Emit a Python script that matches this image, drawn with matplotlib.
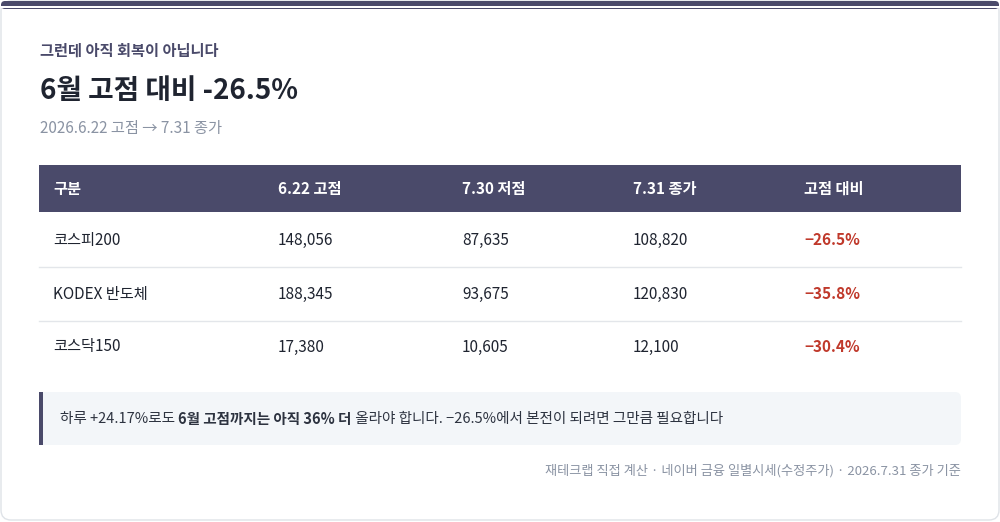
import matplotlib
matplotlib.use("Agg")
import matplotlib.pyplot as plt
from matplotlib.patches import FancyBboxPatch, Rectangle

FAM = ['Noto Sans CJK KR', 'DejaVu Sans']
plt.rcParams['font.family'] = FAM

headers = ["구분", "6.22 고점", "7.30 저점", "7.31 종가", "고점 대비"]
names = ["코스피200", "KODEX 반도체", "코스닥150"]
highs = [148056, 188345, 17380]
lows = [87635, 93675, 10605]
closes = [108820, 120830, 12100]
changes = [-26.5, -35.8, -30.4]

DARK = "#4a4a6a"
TXT = "#1f2430"
GRAY = "#8a93a3"
RED = "#c0392b"

fig = plt.figure(figsize=(10, 5.22), dpi=100)
ax = fig.add_axes([0, 0, 1, 1])
ax.set_xlim(0, 1000); ax.set_ylim(522, 0); ax.axis("off")

ax.add_patch(FancyBboxPatch((1, 1), 998, 519, boxstyle="round,pad=0,rounding_size=10",
                            fc="white", ec="#dfe3e8", lw=1))
ax.add_patch(FancyBboxPatch((1, 1), 998, 8, boxstyle="round,pad=0,rounding_size=4",
                            fc=DARK, ec="none"))
ax.add_patch(Rectangle((1, 4), 998, 3, fc=DARK, ec="none"))
ax.add_patch(Rectangle((1, 6), 998, 2, fc="white", ec="none"))

ax.text(40, 51, "그런데 아직 회복이 아닙니다", fontsize=11, fontweight="bold", color=DARK, va="center")
ax.text(40, 91, "6월 고점 대비 -26.5%", fontsize=20, fontweight="bold", color=TXT, va="center")
ax.text(40, 128, "2026.6.22 고점 → 7.31 종가", fontsize=11, color=GRAY, va="center")

colx = [53, 278, 462, 633, 804]
ax.add_patch(Rectangle((39, 165), 922, 47, fc=DARK, ec="none"))
for x, h in zip(colx, headers):
    ax.text(x, 189, h, fontsize=11, fontweight="bold", color="white", va="center")

rowy = [240, 294, 347]
for i, y in enumerate(rowy):
    vals = [names[i], f"{highs[i]:,}", f"{lows[i]:,}", f"{closes[i]:,}"]
    for x, v in zip(colx, vals):
        ax.text(x, y, v, fontsize=11, color=TXT, va="center")
    ax.text(colx[4], y, f"\u2212{abs(changes[i]):.1f}%", fontsize=11, fontweight="bold",
            color=RED, va="center")
    if i < 2:
        ax.plot([39, 961], [y + 27, y + 27], color="#e3e6ea", lw=1)

ax.add_patch(FancyBboxPatch((39, 392), 922, 53, boxstyle="round,pad=0,rounding_size=6",
                            fc="#f3f6f9", ec="none"))
ax.add_patch(Rectangle((39, 392), 4, 53, fc=DARK, ec="none"))

segs = [("하루 +24.17%로도 ", False), ("6월 고점까지는 아직 36% 더", True),
        (" 올라야 합니다. \u221226.5%에서 본전이 되려면 그만큼 필요합니다", False)]
fig.canvas.draw()
r = fig.canvas.get_renderer()
x = 60
for s, b in segs:
    t = ax.text(x, 419, s, fontsize=10.5, fontweight="bold" if b else "normal",
                color="#2d3340", va="center")
    bb = t.get_window_extent(renderer=r)
    x += bb.width  # 1 data unit == 1 px

ax.text(961, 471, "재테크랩 직접 계산 · 네이버 금융 일별시세(수정주가) · 2026.7.31 종가 기준",
        fontsize=9.5, color=GRAY, ha="right", va="center")

fig.savefig("out.png", dpi=100)
